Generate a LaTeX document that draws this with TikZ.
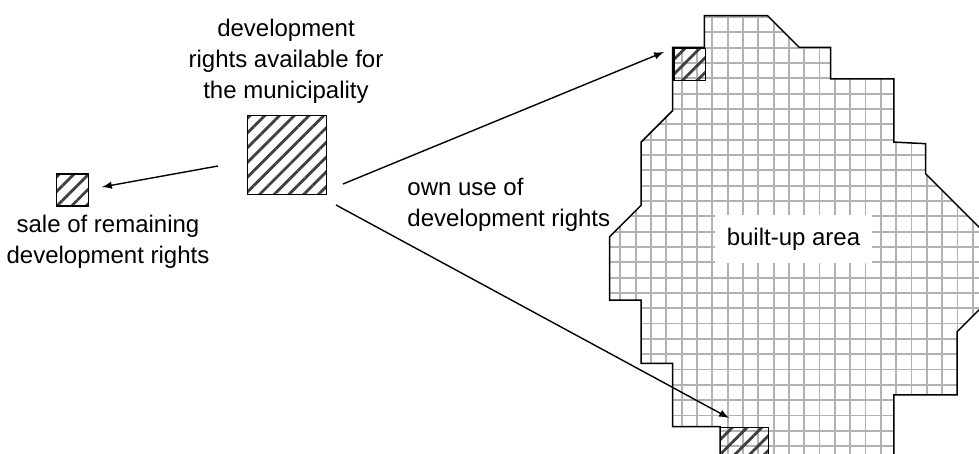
\documentclass[tikz,border=0pt]{standalone}
\usepackage{fontspec}
\setmainfont{Liberation Sans}
\usetikzlibrary{patterns.meta}

\newcommand{\areaoutline}{(6,0) -- (10,0) -- (12,2) -- (14,2) -- (14,4) -- (18,4) -- (18,8) -- (20,8.1) -- (20,10) -- (24,14) -- (24,18) -- (22,20) -- (22,24) -- (18,24) -- (18,31) -- (7,31) -- (7,26) -- (4,26) -- (4,22) -- (2,22) -- (2,18) -- (0,18) -- (0,14) -- (2,12) -- (2,8) -- (4,6) -- (4,2) -- (6,2) -- cycle}

\tikzset{
	hatchbox/.style={draw, line width=0.65pt, inner sep=0pt, anchor=north west,
		pattern={Lines[angle=45, distance=5.2pt, line width=1.4pt]}, pattern color=black!75},
	gridline/.style={black!30, line width=0.9pt},
	textlabel/.style={font=\fontsize{12}{15.4}\selectfont, align=center, inner sep=0pt},
	connector/.style={arrows={-latex}, line width=0.7pt}
}

\begin{document}
\begin{tikzpicture}[x=0.5pt, y=-0.5pt]
	\clip (0,0) rectangle (979,454);

	\begin{scope}[shift={(609.5,15.7)}, x=7.9pt, y=-7.9pt]
		\begin{scope}
			\clip \areaoutline;
			\foreach \k in {-8,...,19}
				\draw [gridline] ({6.506+0.97*\k},-1) -- ++(0,33);
			\foreach \k in {-10,...,24}
				\draw [gridline] (-1,{8.816+0.97*\k}) -- ++(26,0);
		\end{scope}
		\draw [line width=0.75pt] \areaoutline;
		\node [hatchbox, minimum size=15.8pt] (useN) at (4,2) {};
		\node [hatchbox, minimum size=23.7pt] (useS) at (7,26) {};
	\end{scope}

	\coordinate (saleStart) at (218,166);
	\coordinate (saleTip) at (102,187);
	\coordinate (northStart) at (343,184);
	\coordinate (northTip) at (664,52);
	\coordinate (southStart) at (336,205);
	\coordinate (southTip) at (729,418);

	\node [hatchbox, minimum size=39.5pt] (avail) at (247,114.7) {};
	\node [hatchbox, minimum size=16pt] (sale) at (56,173.3) {};

	\node [textlabel] (availText) at (286,61) {development\\rights available for\\the municipality};
	\node [textlabel] (saleText) at (108,242) {sale of remaining\\development rights};
	\node [textlabel, align=left, anchor=west] (ownText) at (407,204.5) {own use of\\development rights};
	\node [textlabel, fill=white, minimum width=78.5pt, minimum height=24pt] (builtText) at (793.5,239) {built-up area};

	\draw [connector] (saleStart) -- (saleTip);
	\draw [connector] (northStart) -- (northTip);
	\draw [connector] (southStart) -- (southTip);
\end{tikzpicture}
\end{document}
